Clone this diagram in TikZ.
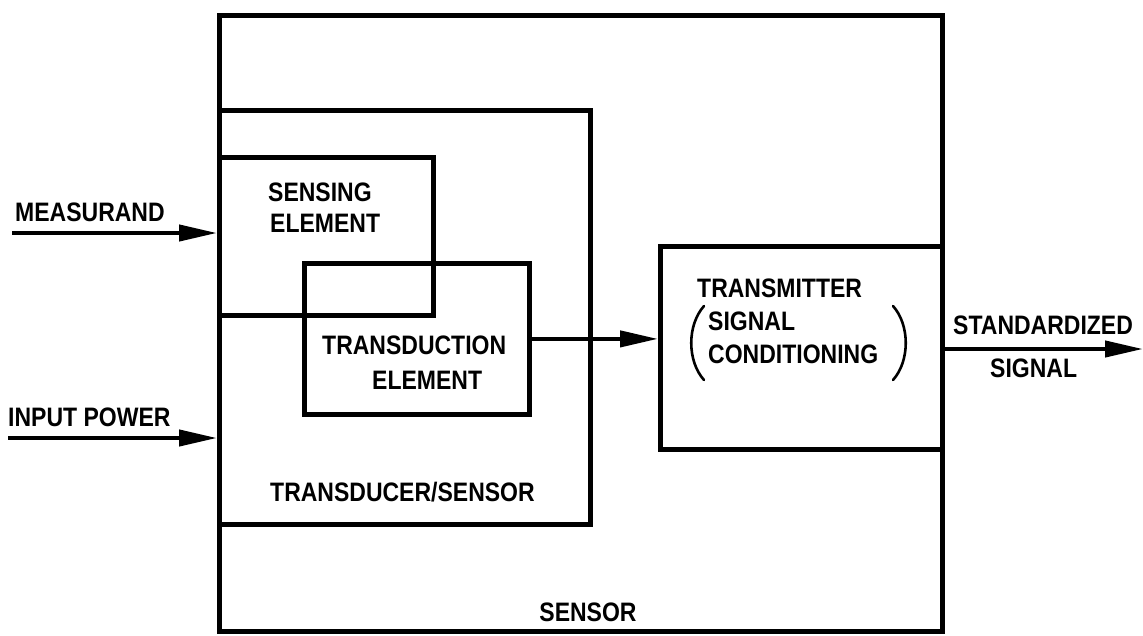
\documentclass[tikz,border=0pt]{standalone}
\usepackage{fontspec}
\setmainfont{Liberation Sans}
\usetikzlibrary{arrows.meta}
\newcommand{\tall}[1]{\scalebox{1}[1.16]{#1}}
\begin{document}
\begin{tikzpicture}[x=1pt,y=-1pt,
  box/.style={draw, line width=4.8pt, inner sep=0pt, anchor=north west},
  lbl/.style={font=\fontsize{23}{26}\selectfont\bfseries, inner sep=0pt, anchor=west},
  arr/.style={-{Triangle[length=38pt,width=16pt]}, line width=4.2pt},
  paren/.style={line width=2.6pt, line cap=round}]
\useasboundingbox (0,0) rectangle (1143,635);
\fill[white] (0,0) rectangle (1143,635);
% boxes
\node[box, minimum width=723pt, minimum height=616pt] (sensor) at (217,13) {};
\node[box, minimum width=371pt, minimum height=414pt] (tds) at (217,108) {};
\node[box, minimum width=214pt, minimum height=158pt] (sense) at (217,155) {};
\node[box, minimum width=225pt, minimum height=151pt] (trd) at (302,261) {};
\node[box, minimum width=282pt, minimum height=203pt] (tx) at (658,244) {};
% texts
\node[lbl] (tsense1) at (268,192) {\tall{SENSING}};
\node[lbl] (tsense2) at (270,223) {\tall{ELEMENT}};
\node[lbl] (ttrd1) at (322,345) {\tall{TRANSDUCTION}};
\node[lbl] (ttrd2) at (372,380) {\tall{ELEMENT}};
\node[lbl] (ttds) at (270,492) {\tall{TRANSDUCER/SENSOR}};
\node[lbl, anchor=center] (tsensor) at (588,612) {\tall{SENSOR}};
\node[lbl] (ttx1) at (697,288) {\tall{TRANSMITTER}};
\node[lbl] (ttx2) at (708,321) {\tall{SIGNAL}};
\node[lbl] (ttx3) at (708,354) {\tall{CONDITIONING}};
\node[lbl] (tmeas) at (15,212) {\tall{MEASURAND}};
\node[lbl] (tpow) at (8,417) {\tall{INPUT POWER}};
\node[lbl] (tstd1) at (953,325) {\tall{STANDARDIZED}};
\node[lbl] (tstd2) at (990,368) {\tall{SIGNAL}};
% parentheses
\draw[paren] (704,306) .. controls (687,325) and (687,361) .. (704,380);
\draw[paren] (893,306) .. controls (910,325) and (910,361) .. (893,380);
% connectors
\coordinate (min) at (12,233);
\draw[arr] (min) -- (min -| sense.west);
\coordinate (pin) at (8,438);
\draw[arr] (pin) -- (pin -| tds.west);
\draw[arr] (trd.east) -- (trd.east -| tx.west);
\coordinate (out) at (1143,349);
\draw[arr] (out -| tx.east) -- (out);
\end{tikzpicture}
\end{document}
